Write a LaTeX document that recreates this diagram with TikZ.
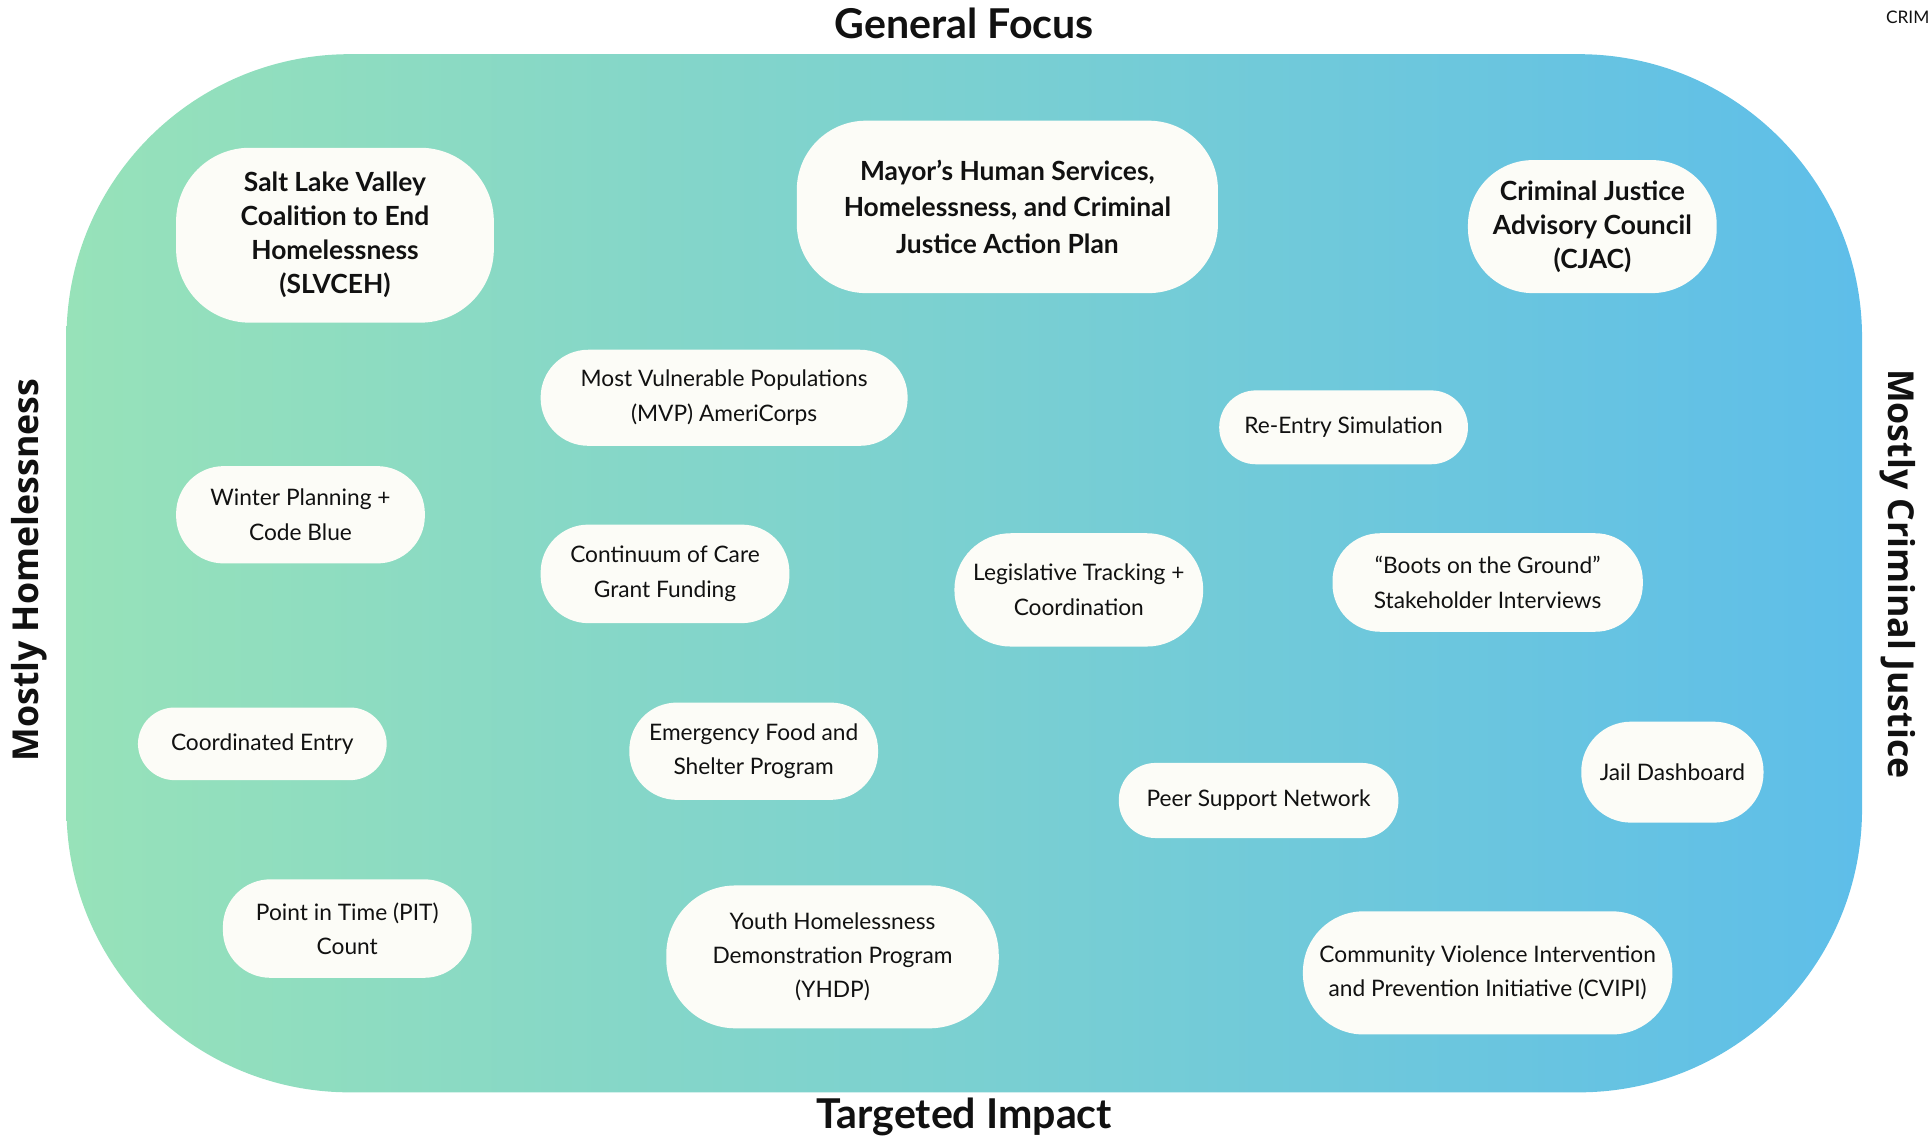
\documentclass[tikz,border=0pt]{standalone}
\usepackage{fontspec}
\setmainfont{Lato}
\newfontfamily\sidefont{Open Sans}
\usetikzlibrary{shapes.misc}
\definecolor{gL}{HTML}{97E2B9}
\definecolor{gR}{HTML}{5EBEE9}
\definecolor{nodefill}{HTML}{FCFCF7}
\definecolor{ink}{HTML}{111111}
\tikzset{
  pill/.style={fill=nodefill, text=ink, align=center, inner sep=0pt, rounded corners=#1},
  sz/.style 2 args={minimum width=#1*0.02cm, minimum height=#2*0.02cm},
  reg/.style={font=\fontsize{10.5}{15.9}\selectfont},
  bld/.style={font=\fontsize{12.2}{15.7}\selectfont\bfseries},
  bldw/.style={font=\fontsize{12.2}{17}\selectfont\bfseries},
  title/.style={font=\fontsize{19}{22}\selectfont\bfseries, text=ink},
  side/.style={font=\sidefont\fontsize{16.5}{18}\selectfont\bfseries, text=ink},
}
\begin{document}
\begin{tikzpicture}[x=0.02cm, y=-0.02cm]
\useasboundingbox (0,0) rectangle (1568,925);
\begin{scope}
\clip (0,0) rectangle (1568,925);
% background panel
\shade[left color=gL, right color=gR, rounded corners=131pt] (54,44) rectangle (1512,887);

% titles
\node[title] (top) at (783,19) {General Focus};
\node[title] (bottom) at (783,907) {Targeted Impact};
\node[side, rotate=90] (left) at (24,463) {Mostly Homelessness};
\node[side, rotate=-90] (right) at (1541,466) {Mostly Criminal Justice};
\node[anchor=east, inner sep=0pt, font=\fontsize{8}{10}\selectfont, text=ink] (crim) at (1567,14) {CRIM};

% nodes
\node[pill=34pt, sz={258}{142}, bld] (slvceh) at (272,191) {Salt Lake Valley\\Coalition to End\\Homelessness\\(SLVCEH)};
\node[pill=32pt, sz={342}{140}, bldw] (mayor) at (818,168) {Mayor’s Human Services,\\Homelessness, and Criminal\\Justice Action Plan};
\node[pill=30pt, sz={202}{108}, bld] (cjac) at (1293,184) {Criminal Justice\\Advisory Council\\(CJAC)};
\node[pill=22pt, sz={298}{78}, reg] (mvp) at (588,323) {Most Vulnerable Populations\\(MVP) AmeriCorps};
\node[pill=17pt, sz={202}{60}, reg] (reentry) at (1091,347) {Re-Entry Simulation};
\node[pill=22pt, sz={202}{79}, reg] (winter) at (244,418) {Winter Planning +\\Code Blue};
\node[pill=22pt, sz={202}{80}, reg] (coc) at (540,466) {Continuum of Care\\Grant Funding};
\node[pill=26pt, sz={202}{92}, reg] (legis) at (876,479) {Legislative Tracking +\\Coordination};
\node[pill=22pt, sz={252}{80}, reg] (boots) at (1208,473) {“Boots on the Ground”\\Stakeholder Interviews};
\node[pill=17pt, sz={202}{59}, reg] (ce) at (213,604) {Coordinated Entry};
\node[pill=22pt, sz={202}{79}, reg] (efsp) at (612,610) {Emergency Food and\\Shelter Program};
\node[pill=17pt, sz={227}{61}, reg] (peer) at (1022,650) {Peer Support Network};
\node[pill=23pt, sz={148}{82}, reg] (jail) at (1358,627) {Jail Dashboard};
\node[pill=22pt, sz={202}{80}, reg] (pit) at (282,754) {Point in Time (PIT)\\Count};
\node[pill=32pt, sz={270}{116}, reg] (yhdp) at (676,777) {Youth Homelessness\\Demonstration Program\\(YHDP)};
\node[pill=28pt, sz={300}{100}, reg] (cvipi) at (1208,790) {Community Violence Intervention\\and Prevention Initiative (CVIPI)};
\end{scope}
\end{tikzpicture}
\end{document}
